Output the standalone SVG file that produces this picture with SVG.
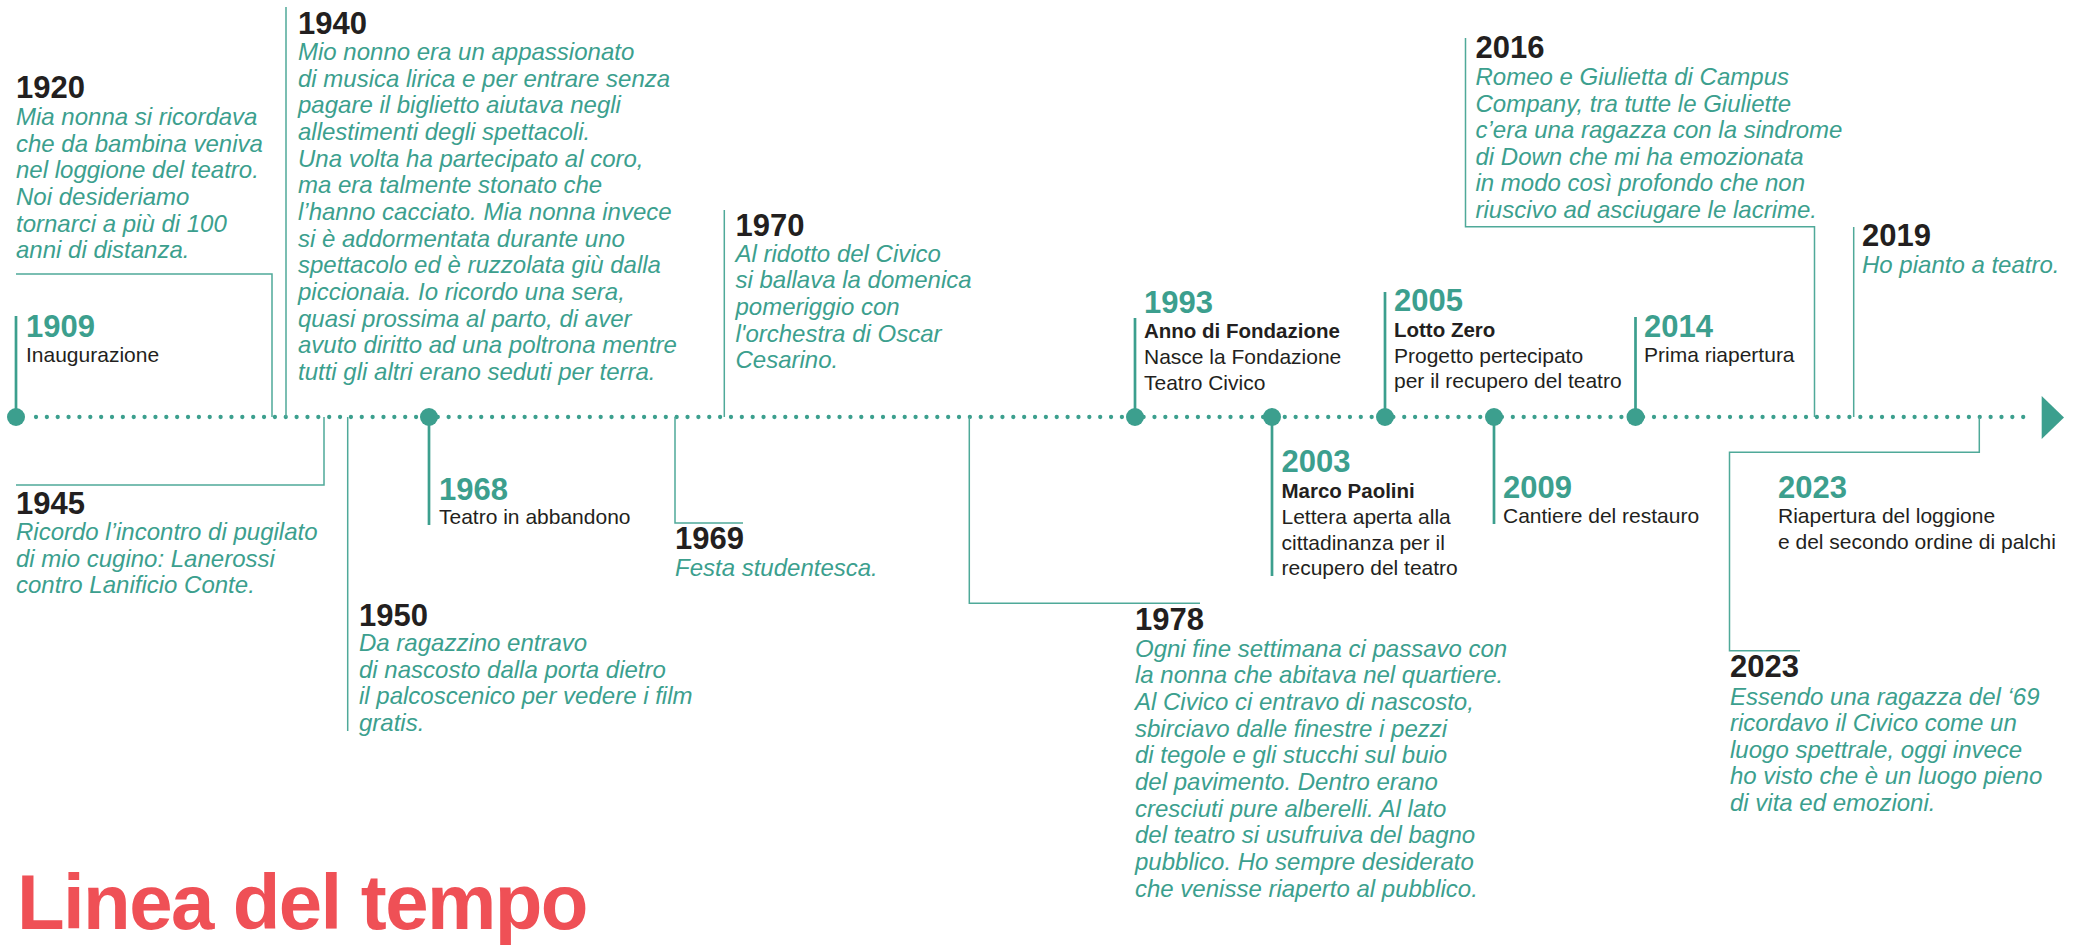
<svg xmlns="http://www.w3.org/2000/svg" width="2084" height="946" viewBox="0 0 2084 946">
<style>
text{font-family:"Liberation Sans",Arial,sans-serif}
.yr{font-weight:700;font-size:31px}
.t{fill:#3c9f8e}
.k{fill:#231f20}
.mem{font-style:italic;font-size:24px;fill:#3c9f8e}
.bd{font-size:21px;fill:#231f20}
.sb{font-size:20.5px;font-weight:700;fill:#231f20}
.thin{stroke:#4fa999;stroke-width:1.5;fill:none}
.thick{stroke:#3c9f8e;stroke-width:2.7;fill:none}
.dot{fill:#3c9f8e}
.title{font-size:78px;font-weight:700;fill:#ef5056;letter-spacing:-1.6px}
</style>
<rect width="2084" height="946" fill="#ffffff"/>
<g id="timeline">
<line x1="36" y1="417" x2="2034" y2="417" stroke="#3c9f8e" stroke-width="4.3" stroke-linecap="round" stroke-dasharray="0 10.859"/>
<polygon points="2041.7,396 2064,417.5 2041.7,439" fill="#3c9f8e"/>
</g>
<g id="connectors">
<polyline class="thin" points="16,274 272,274 272,417"/>
<line class="thin" x1="286" y1="7" x2="286" y2="417"/>
<polyline class="thin" points="16,485 324,485 324,417"/>
<line class="thin" x1="347.7" y1="417" x2="347.7" y2="731"/>
<polyline class="thin" points="675,417 675,523 743,523"/>
<line class="thin" x1="724.3" y1="210" x2="724.3" y2="417"/>
<polyline class="thin" points="969.3,417 969.3,603.3 1200,603.3"/>
<polyline class="thin" points="1465.5,38 1465.5,226.7 1814.5,226.7 1814.5,417"/>
<line class="thin" x1="1853.7" y1="227" x2="1853.7" y2="417"/>
<polyline class="thin" points="1979.3,417 1979.3,452.3 1729.5,452.3 1729.5,650.7 1800,650.7"/>
<line class="thick" x1="16" y1="316" x2="16" y2="417"/>
<line class="thick" x1="429" y1="417" x2="429" y2="525"/>
<line class="thick" x1="1135" y1="318" x2="1135" y2="417"/>
<line class="thick" x1="1272" y1="417" x2="1272" y2="576"/>
<line class="thick" x1="1385" y1="292" x2="1385" y2="417"/>
<line class="thick" x1="1494" y1="417" x2="1494" y2="524"/>
<line class="thick" x1="1635.5" y1="317" x2="1635.5" y2="417"/>
</g>
<g id="e1920">
<text class="yr k" x="16" y="98">1920</text>
<text class="mem"><tspan x="16" y="125">Mia nonna si ricordava</tspan><tspan x="16" y="151.7">che da bambina veniva</tspan><tspan x="16" y="178.3">nel loggione del teatro.</tspan><tspan x="16" y="205">Noi desideriamo</tspan><tspan x="16" y="231.7">tornarci a più di 100</tspan><tspan x="16" y="258.3">anni di distanza.</tspan></text>
</g>
<g id="e1909">
<circle class="dot" cx="16" cy="417" r="9"/>
<text class="yr t" x="26" y="336.5">1909</text>
<text class="bd" x="26" y="361.7">Inaugurazione</text>
</g>
<g id="e1940">
<text class="yr k" x="298" y="33.5">1940</text>
<text class="mem"><tspan x="298" y="60">Mio nonno era un appassionato</tspan><tspan x="298" y="86.65">di musica lirica e per entrare senza</tspan><tspan x="298" y="113.3">pagare il biglietto aiutava negli</tspan><tspan x="298" y="139.95">allestimenti degli spettacoli.</tspan><tspan x="298" y="166.6">Una volta ha partecipato al coro,</tspan><tspan x="298" y="193.25">ma era talmente stonato che</tspan><tspan x="298" y="219.9">l’hanno cacciato. Mia nonna invece</tspan><tspan x="298" y="246.55">si è addormentata durante uno</tspan><tspan x="298" y="273.2">spettacolo ed è ruzzolata giù dalla</tspan><tspan x="298" y="299.85">piccionaia. Io ricordo una sera,</tspan><tspan x="298" y="326.5">quasi prossima al parto, di aver</tspan><tspan x="298" y="353.15">avuto diritto ad una poltrona mentre</tspan><tspan x="298" y="379.8">tutti gli altri erano seduti per terra.</tspan></text>
</g>
<g id="e1945">
<text class="yr k" x="16" y="513.5">1945</text>
<text class="mem"><tspan x="16" y="540">Ricordo l’incontro di pugilato</tspan><tspan x="16" y="566.7">di mio cugino: Lanerossi</tspan><tspan x="16" y="593.3">contro Lanificio Conte.</tspan></text>
</g>
<g id="e1950">
<text class="yr k" x="359" y="625.5">1950</text>
<text class="mem"><tspan x="359" y="651">Da ragazzino entravo</tspan><tspan x="359" y="677.7">di nascosto dalla porta dietro</tspan><tspan x="359" y="704.3">il palcoscenico per vedere i film</tspan><tspan x="359" y="731">gratis.</tspan></text>
</g>
<g id="e1968">
<circle class="dot" cx="429" cy="417" r="9"/>
<text class="yr t" x="439" y="500">1968</text>
<text class="bd" x="439" y="524">Teatro in abbandono</text>
</g>
<g id="e1969">
<text class="yr k" x="675" y="549">1969</text>
<text class="mem" x="675" y="575.5">Festa studentesca.</text>
</g>
<g id="e1970">
<text class="yr k" x="735.5" y="236">1970</text>
<text class="mem"><tspan x="735.5" y="261.7">Al ridotto del Civico</tspan><tspan x="735.5" y="288.3">si ballava la domenica</tspan><tspan x="735.5" y="315">pomeriggio con</tspan><tspan x="735.5" y="341.7">l'orchestra di Oscar</tspan><tspan x="735.5" y="368.3">Cesarino.</tspan></text>
</g>
<g id="e1978">
<text class="yr k" x="1135" y="630">1978</text>
<text class="mem"><tspan x="1135" y="656.7">Ogni fine settimana ci passavo con</tspan><tspan x="1135" y="683.3">la nonna che abitava nel quartiere.</tspan><tspan x="1135" y="710">Al Civico ci entravo di nascosto,</tspan><tspan x="1135" y="736.6">sbirciavo dalle finestre i pezzi</tspan><tspan x="1135" y="763.3">di tegole e gli stucchi sul buio</tspan><tspan x="1135" y="790">del pavimento. Dentro erano</tspan><tspan x="1135" y="816.6">cresciuti pure alberelli. Al lato</tspan><tspan x="1135" y="843.3">del teatro si usufruiva del bagno</tspan><tspan x="1135" y="870">pubblico. Ho sempre desiderato</tspan><tspan x="1135" y="896.6">che venisse riaperto al pubblico.</tspan></text>
</g>
<g id="e1993">
<circle class="dot" cx="1135" cy="417" r="9"/>
<text class="yr t" x="1144" y="313">1993</text>
<text class="sb" x="1144" y="338">Anno di Fondazione</text>
<text class="bd"><tspan x="1144" y="364">Nasce la Fondazione</tspan><tspan x="1144" y="389.5">Teatro Civico</tspan></text>
</g>
<g id="e2003">
<circle class="dot" cx="1272" cy="417" r="9"/>
<text class="yr t" x="1281.5" y="472">2003</text>
<text class="sb" x="1281.5" y="498">Marco Paolini</text>
<text class="bd"><tspan x="1281.5" y="524">Lettera aperta alla</tspan><tspan x="1281.5" y="549.5">cittadinanza per il</tspan><tspan x="1281.5" y="575">recupero del teatro</tspan></text>
</g>
<g id="e2005">
<circle class="dot" cx="1385" cy="417" r="9"/>
<text class="yr t" x="1394" y="311">2005</text>
<text class="sb" x="1394" y="337">Lotto Zero</text>
<text class="bd"><tspan x="1394" y="362.5">Progetto pertecipato</tspan><tspan x="1394" y="388">per il recupero del teatro</tspan></text>
</g>
<g id="e2009">
<circle class="dot" cx="1494" cy="417" r="9"/>
<text class="yr t" x="1503" y="497.5">2009</text>
<text class="bd" x="1503" y="523.3">Cantiere del restauro</text>
</g>
<g id="e2014">
<circle class="dot" cx="1635.5" cy="417" r="9"/>
<text class="yr t" x="1644" y="336.7">2014</text>
<text class="bd" x="1644" y="361.7">Prima riapertura</text>
</g>
<g id="e2016">
<text class="yr k" x="1475.5" y="58">2016</text>
<text class="mem"><tspan x="1475.5" y="85">Romeo e Giulietta di Campus</tspan><tspan x="1475.5" y="111.6">Company, tra tutte le Giuliette</tspan><tspan x="1475.5" y="138.2">c’era una ragazza con la sindrome</tspan><tspan x="1475.5" y="164.8">di Down che mi ha emozionata</tspan><tspan x="1475.5" y="191.4">in modo così profondo che non</tspan><tspan x="1475.5" y="218">riuscivo ad asciugare le lacrime.</tspan></text>
</g>
<g id="e2019">
<text class="yr k" x="1862" y="245.7">2019</text>
<text class="mem" x="1862" y="273.3">Ho pianto a teatro.</text>
</g>
<g id="e2023a">
<text class="yr t" x="1778" y="497.5">2023</text>
<text class="bd"><tspan x="1778" y="523.3">Riapertura del loggione</tspan><tspan x="1778" y="548.5">e del secondo ordine di palchi</tspan></text>
</g>
<g id="e2023b">
<text class="yr k" x="1730" y="677">2023</text>
<text class="mem"><tspan x="1730" y="704.5">Essendo una ragazza del ‘69</tspan><tspan x="1730" y="731">ricordavo il Civico come un</tspan><tspan x="1730" y="757.6">luogo spettrale, oggi invece</tspan><tspan x="1730" y="784.2">ho visto che è un luogo pieno</tspan><tspan x="1730" y="810.8">di vita ed emozioni.</tspan></text>
</g>
<g id="title">
<text class="title" x="17" y="929">Linea del tempo</text>
</g>
</svg>
